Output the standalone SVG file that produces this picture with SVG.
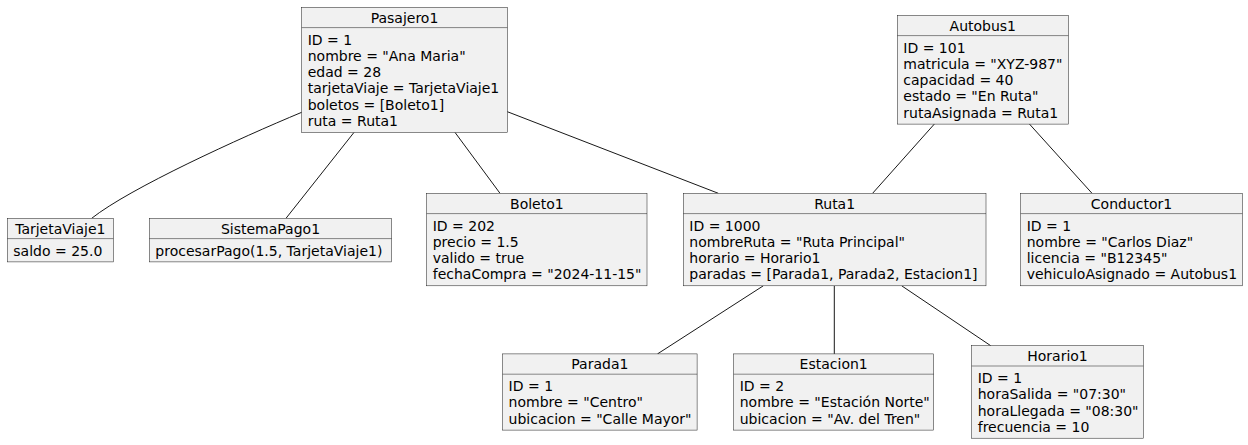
<svg xmlns="http://www.w3.org/2000/svg" width="1248" height="445" viewBox="0 0 1248 445">
<style>
.box{fill:#F1F1F1;stroke:#181818;stroke-width:0.5}
.sep{stroke:#181818;stroke-width:0.5}
text{font-family:"DejaVu Sans","Liberation Sans",sans-serif;font-size:14px;fill:#000}
.h{text-anchor:middle}
.edge{fill:none;stroke:#181818;stroke-width:1}
</style>
<rect width="1248" height="445" fill="#FFFFFF"/>
<g id="connectors">
<path class="edge" d="M301.7,112.3 C240,138 130,188 91.7,218.3"/>
<path class="edge" d="M354,132.4 L286,218.3"/>
<path class="edge" d="M455,132.4 L500,193.3"/>
<path class="edge" d="M507.3,111.7 L718.3,193.3"/>
<path class="edge" d="M934.3,124.1 L872.6,193.3"/>
<path class="edge" d="M1029.5,124.1 L1092,193.3"/>
<path class="edge" d="M763.3,285.8 L657.5,353.9"/>
<path class="edge" d="M834.3,285.8 L834.3,353.9"/>
<path class="edge" d="M901.7,285.8 L990.7,345.7"/>
</g>
<g id="Pasajero1" transform="translate(301.7,7.3)">
<rect class="box" width="205.6" height="125.1"/>
<line class="sep" x1="0" y1="20.3" x2="205.6" y2="20.3"/>
<text class="h" x="102.8" y="15.6">Pasajero1</text>
<text x="6" y="37.3">ID = 1</text>
<text x="6" y="53.6">nombre = "Ana Maria"</text>
<text x="6" y="69.9">edad = 28</text>
<text x="6" y="86.2">tarjetaViaje = TarjetaViaje1</text>
<text x="6" y="102.5">boletos = [Boleto1]</text>
<text x="6" y="118.8">ruta = Ruta1</text>
</g>
<g id="Autobus1" transform="translate(897.3,15.3)">
<rect class="box" width="171" height="108.8"/>
<line class="sep" x1="0" y1="20.3" x2="171" y2="20.3"/>
<text class="h" x="85.5" y="15.6">Autobus1</text>
<text x="6" y="37.3">ID = 101</text>
<text x="6" y="53.6">matricula = "XYZ-987"</text>
<text x="6" y="69.9">capacidad = 40</text>
<text x="6" y="86.2">estado = "En Ruta"</text>
<text x="6" y="102.5">rutaAsignada = Ruta1</text>
</g>
<g id="TarjetaViaje1" transform="translate(7.3,218.3)">
<rect class="box" width="106" height="43.6"/>
<line class="sep" x1="0" y1="20.3" x2="106" y2="20.3"/>
<text class="h" x="53" y="15.6">TarjetaViaje1</text>
<text x="6" y="37.3">saldo = 25.0</text>
</g>
<g id="SistemaPago1" transform="translate(149.3,218.3)">
<rect class="box" width="242.4" height="43.6"/>
<line class="sep" x1="0" y1="20.3" x2="242.4" y2="20.3"/>
<text class="h" x="121.2" y="15.6">SistemaPago1</text>
<text x="6" y="37.3">procesarPago(1.5, TarjetaViaje1)</text>
</g>
<g id="Boleto1" transform="translate(426.7,193.3)">
<rect class="box" width="220.3" height="92.5"/>
<line class="sep" x1="0" y1="20.3" x2="220.3" y2="20.3"/>
<text class="h" x="110.15" y="15.6">Boleto1</text>
<text x="6" y="37.3">ID = 202</text>
<text x="6" y="53.6">precio = 1.5</text>
<text x="6" y="69.9">valido = true</text>
<text x="6" y="86.2">fechaCompra = "2024-11-15"</text>
</g>
<g id="Ruta1" transform="translate(683.3,193.3)">
<rect class="box" width="302.7" height="92.5"/>
<line class="sep" x1="0" y1="20.3" x2="302.7" y2="20.3"/>
<text class="h" x="151.35" y="15.6">Ruta1</text>
<text x="6" y="37.3">ID = 1000</text>
<text x="6" y="53.6">nombreRuta = "Ruta Principal"</text>
<text x="6" y="69.9">horario = Horario1</text>
<text x="6" y="86.2">paradas = [Parada1, Parada2, Estacion1]</text>
</g>
<g id="Conductor1" transform="translate(1020.7,193.3)">
<rect class="box" width="221.6" height="92.5"/>
<line class="sep" x1="0" y1="20.3" x2="221.6" y2="20.3"/>
<text class="h" x="110.8" y="15.6">Conductor1</text>
<text x="6" y="37.3">ID = 1</text>
<text x="6" y="53.6">nombre = "Carlos Diaz"</text>
<text x="6" y="69.9">licencia = "B12345"</text>
<text x="6" y="86.2">vehiculoAsignado = Autobus1</text>
</g>
<g id="Parada1" transform="translate(502.6,353.9)">
<rect class="box" width="194.5" height="76.2"/>
<line class="sep" x1="0" y1="20.3" x2="194.5" y2="20.3"/>
<text class="h" x="97.25" y="15.6">Parada1</text>
<text x="6" y="37.3">ID = 1</text>
<text x="6" y="53.6">nombre = "Centro"</text>
<text x="6" y="69.9">ubicacion = "Calle Mayor"</text>
</g>
<g id="Estacion1" transform="translate(733.7,353.9)">
<rect class="box" width="200" height="76.2"/>
<line class="sep" x1="0" y1="20.3" x2="200" y2="20.3"/>
<text class="h" x="100" y="15.6">Estacion1</text>
<text x="6" y="37.3">ID = 2</text>
<text x="6" y="53.6">nombre = "Estación Norte"</text>
<text x="6" y="69.9">ubicacion = "Av. del Tren"</text>
</g>
<g id="Horario1" transform="translate(971.7,345.7)">
<rect class="box" width="171.6" height="92.5"/>
<line class="sep" x1="0" y1="20.3" x2="171.6" y2="20.3"/>
<text class="h" x="85.8" y="15.6">Horario1</text>
<text x="6" y="37.3">ID = 1</text>
<text x="6" y="53.6">horaSalida = "07:30"</text>
<text x="6" y="69.9">horaLlegada = "08:30"</text>
<text x="6" y="86.2">frecuencia = 10</text>
</g>
</svg>
